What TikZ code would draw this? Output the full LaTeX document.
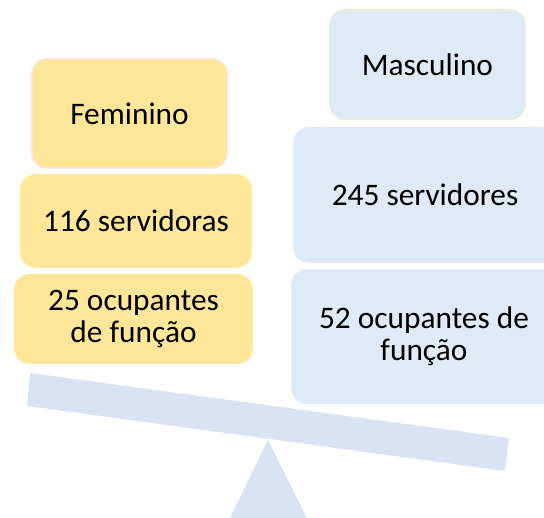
\documentclass[tikz,border=0pt]{standalone}
\usepackage{fontspec}
\setmainfont{Carlito}
\definecolor{yel}{HTML}{FFE699}
\definecolor{yelb}{HTML}{FBE5D6}
\definecolor{blu}{HTML}{DEEBF7}
\definecolor{grnb}{HTML}{E2F0D9}
\definecolor{beam}{HTML}{DAE3F3}
\begin{document}
\begin{tikzpicture}[x=0.75pt,y=-0.75pt,
  box/.style={rounded corners=11pt, inner sep=0pt, align=center,
    font=\fontsize{23.5}{24}\selectfont, line width=1.2pt},
  fbox/.style={box, fill=yel, draw=yel},
  mbox/.style={box, fill=blu, draw=blu}]
\useasboundingbox (0,0) rectangle (544,518);
\clip (0,0) rectangle (544,518);
% balance
\fill[beam] (30,373) -- (509,438) -- (505,471) -- (27,406) -- cycle;
\fill[beam] (268,440) -- (313,530) -- (224,530) -- cycle;
% female
\node[fbox, draw=yelb, minimum width=146.25pt, minimum height=81.75pt] (fem) at (129.5,113.5) {Feminino};
\node[fbox, minimum width=172.5pt, minimum height=69pt] (s116) at (136,221) {116 servidoras};
\node[fbox, minimum width=177.75pt, minimum height=66pt] (o25) at (133.5,319) {25 ocupantes\\de função};
% male
\node[mbox, draw=grnb, minimum width=146.25pt, minimum height=81.75pt] (masc) at (427.5,64.5) {Masculino};
\node[mbox, minimum width=196.5pt, minimum height=100.5pt] (s245) at (425,195) {245 servidores};
\node[mbox, minimum width=198pt, minimum height=99.75pt] (o52) at (424,336.5) {52 ocupantes de\\função};
\end{tikzpicture}
\end{document}
